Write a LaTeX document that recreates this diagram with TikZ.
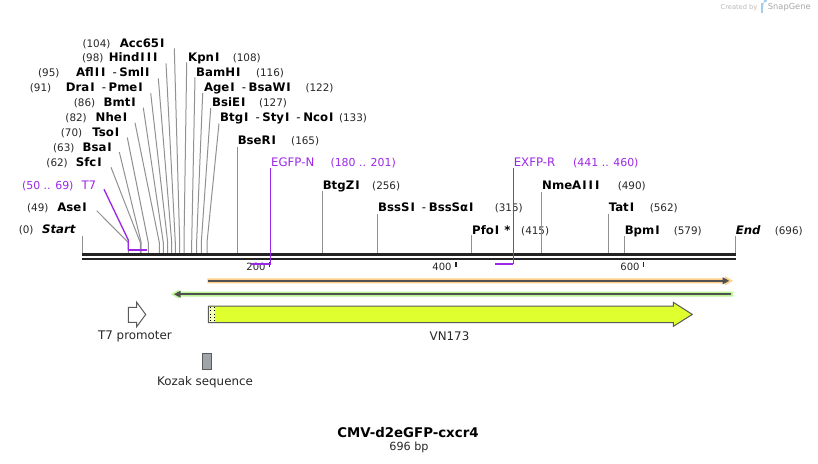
\documentclass[tikz,border=0pt]{standalone}
\usepackage{fontspec}
\setmainfont{DejaVu Sans}
\usetikzlibrary{arrows.meta}
\tikzset{every picture/.style={line width=0.75pt}}
\definecolor{seqline}{RGB}{35,35,35}
\definecolor{cutgrey}{RGB}{145,145,145}
\definecolor{primer}{RGB}{155,40,230}
\definecolor{orangeband}{RGB}{255,208,140}
\definecolor{greenband}{RGB}{188,245,150}
\definecolor{vnfill}{RGB}{224,255,47}
\definecolor{kozakfill}{RGB}{160,165,172}
\definecolor{featedge}{RGB}{90,90,90}
\definecolor{bandline}{RGB}{80,80,80}
\definecolor{logoblue}{RGB}{165,205,238}
\newcommand{\enzsep}{\hspace{4.5pt}\textmd{-}\hspace{2pt}}
\newcommand{\eI}{\kern0.75pt I\kern0.75pt}
\tikzset{
  backbone/.style={draw=seqline, line width=2pt},
  cut/.style={draw=cutgrey, line width=0.75pt},
  oligoline/.style={draw=primer, line width=1pt},
  oligobar/.style={draw=primer, line width=1.4pt},
  tickmark/.style={draw=seqline, line width=1.1pt},
  enz/.style={inner sep=0pt, font=\fontsize{8.8}{10}\selectfont\bfseries},
  enzend/.style={inner sep=0pt, font=\fontsize{8.8}{10}\selectfont\bfseries\itshape},
  sitenum/.style={inner sep=0pt, font=\fontsize{7.8}{9}\selectfont, text=black!85},
  oligo/.style={inner sep=0pt, font=\fontsize{8.8}{10}\selectfont, text=primer},
  oligonum/.style={inner sep=0pt, font=\fontsize{8.2}{9}\selectfont, text=primer},
  ticklabel/.style={inner sep=0pt, anchor=base east, font=\fontsize{7.5}{8}\selectfont, text=black!85},
  featlabel/.style={inner sep=0pt, font=\fontsize{8.9}{10}\selectfont, text=black!85},
}

\begin{document}
\begin{tikzpicture}[x=0.75pt,y=0.75pt,yscale=-1,xscale=1]
\useasboundingbox (0,0) rectangle (818,464);

% Text Node: left enzyme labels
\node[enz, anchor=base east] (acc) at (166,47) {Acc65\eI};
\node[sitenum, anchor=base east] (acc-n) at (111,47) {(104)};
\node[enz, anchor=base east] (hind) at (159,61) {Hind\eI\eI\eI};
\node[sitenum, anchor=base east] (hind-n) at (104,61) {(98)};
\node[enz, anchor=base east] (afl) at (151,76) {Afl\eI\eI\enzsep Sml\eI};
\node[sitenum, anchor=base east] (afl-n) at (60,76) {(95)};
\node[enz, anchor=base east] (dra) at (144.3,91) {Dra\eI\enzsep Pme\eI};
\node[sitenum, anchor=base east] (dra-n) at (51.7,91) {(91)};
\node[enz, anchor=base east] (bmt) at (137.3,106) {Bmt\eI};
\node[sitenum, anchor=base east] (bmt-n) at (95.7,106) {(86)};
\node[enz, anchor=base east] (nhe) at (128.7,121) {Nhe\eI};
\node[sitenum, anchor=base east] (nhe-n) at (87.3,121) {(82)};
\node[enz, anchor=base east] (tso) at (120.7,136) {Tso\eI};
\node[sitenum, anchor=base east] (tso-n) at (82.7,136) {(70)};
\node[enz, anchor=base east] (bsa) at (113.3,151) {Bsa\eI};
\node[sitenum, anchor=base east] (bsa-n) at (75,151) {(63)};
\node[enz, anchor=base east] (sfc) at (103.3,166) {Sfc\eI};
\node[sitenum, anchor=base east] (sfc-n) at (68.3,166) {(62)};
\node[oligo, anchor=base east] (t7) at (96.7,189.5) {T7};
\node[oligonum, anchor=base east] (t7-n) at (74,189.5) {(50 .. 69)};
\node[enz, anchor=base east] (ase) at (88.3,211) {Ase\eI};
\node[sitenum, anchor=base east] (ase-n) at (49,211) {(49)};
\node[enzend, anchor=base east] (startlbl) at (76,233.8) {Start};
\node[sitenum, anchor=base east] (startlbl-n) at (34,233.8) {(0)};

% Text Node: right enzyme labels
\node[enz, anchor=base west] (kpn) at (187.7,61) {Kpn\eI};
\node[sitenum, anchor=base west] (kpn-n) at (232.3,61) {(108)};
\node[enz, anchor=base west] (bam) at (195.7,76) {BamH\eI};
\node[sitenum, anchor=base west] (bam-n) at (255.5,76) {(116)};
\node[enz, anchor=base west] (age) at (203.5,91) {Age\eI\enzsep BsaW\eI};
\node[sitenum, anchor=base west] (age-n) at (305,91) {(122)};
\node[enz, anchor=base west] (bsie) at (211.7,106) {BsiE\eI};
\node[sitenum, anchor=base west] (bsie-n) at (258.5,106) {(127)};
\node[enz, anchor=base west] (btg) at (219.7,121) {Btg\eI\enzsep Sty\eI\enzsep Nco\eI};
\node[sitenum, anchor=base west] (btg-n) at (338.5,121) {(133)};
\node[enz, anchor=base west] (bser) at (237.3,144.3) {BseR\eI};
\node[sitenum, anchor=base west] (bser-n) at (290.7,144.3) {(165)};
\node[oligo, anchor=base west] (egfp) at (270.7,166.6) {EGFP-N};
\node[oligonum, anchor=base west] (egfp-n) at (330,166.6) {(180 .. 201)};
\node[enz, anchor=base west] (btgz) at (322.3,189.5) {BtgZ\eI};
\node[sitenum, anchor=base west] (btgz-n) at (371.7,189.5) {(256)};
\node[enz, anchor=base west] (bsss) at (377.7,211.5) {BssS\eI\enzsep BssSα\eI};
\node[sitenum, anchor=base west] (bsss-n) at (494.3,211.5) {(315)};
\node[enz, anchor=base west] (pfo) at (471.7,234) {Pfo\eI{} *};
\node[sitenum, anchor=base west] (pfo-n) at (520.7,234) {(415)};
\node[oligo, anchor=base west] (exfp) at (513.3,166.6) {EXFP-R};
\node[oligonum, anchor=base west] (exfp-n) at (572.7,166.6) {(441 .. 460)};
\node[enz, anchor=base west] (nme) at (541.7,189.5) {NmeA\eI\eI\eI};
\node[sitenum, anchor=base west] (nme-n) at (617.3,189.5) {(490)};
\node[enz, anchor=base west] (tat) at (608.3,211.5) {Tat\eI};
\node[sitenum, anchor=base west] (tat-n) at (649.3,211.5) {(562)};
\node[enz, anchor=base west] (bpm) at (624.3,234) {Bpm\eI};
\node[sitenum, anchor=base west] (bpm-n) at (673.3,234) {(579)};
\node[enzend, anchor=base west] (endlbl) at (735.3,234) {End};
\node[sitenum, anchor=base west] (endlbl-n) at (774.3,234) {(696)};

%Straight Lines: slanted cut connectors
\foreach \id/\xa/\ya/\xs in {acc/174.3/48.3/179.7, hind/166/63.3/175.3, afl/158.3/78.3/171.7,
    dra/150.7/93.3/167.7, bmt/143.3/107.7/163.3, nhe/135/122.7/159.3, tso/127.3/137.5/148.3,
    bsa/119.3/152/141.2, sfc/111/167.3/140.3, ase/96.7/210.7/128.3,
    kpn/186.7/62.3/184, bam/195/77.3/191.7, age/202.7/93/196.6, bsie/210.7/108/201.3, btg/219/123.5/207}{
  \coordinate (\id-a) at (\xa,\ya);
  \coordinate (\id-s) at (\xs,242.5);
  \coordinate (\id-b) at (\xs,253.3);
  \draw[cut] (\id-a) -- (\id-s) -- (\id-b);
}
%Straight Lines: vertical cut connectors
\foreach \id/\xs/\ya in {bser/237.3/147, btgz/322.3/191, bsss/377.7/214, pfo/471.7/235,
    nme/541.7/191.5, tat/608.3/213.5, bpm/624.3/235.5, endlbl/735.3/235.5, startlbl/82.7/235.5}{
  \coordinate (\id-a) at (\xs,\ya);
  \coordinate (\id-b) at (\xs,253.3);
  \draw[cut] (\id-a) -- (\id-b);
}

% Sequence line
\coordinate (seq-a1) at (82,254.7);
\coordinate (seq-b1) at (736,254.7);
\coordinate (seq-a2) at (82,259);
\coordinate (seq-b2) at (736,259);
\draw[backbone] (seq-a1) -- (seq-b1);
\draw[backbone] (seq-a2) -- (seq-b2);

% Ticks
\coordinate (tk200a) at (269.3,262); \coordinate (tk200b) at (269.3,267.3);
\coordinate (tk400a) at (456,262); \coordinate (tk400b) at (456,267.3);
\coordinate (tk600a) at (643.5,262); \coordinate (tk600b) at (643.5,267.3);
\draw[tickmark] (tk200a) -- (tk200b);
\draw[tickmark] (tk400a) -- (tk400b);
\draw[tickmark] (tk600a) -- (tk600b);
\node[ticklabel] (tk200) at (266,270.3) {200};
\node[ticklabel] (tk400) at (452,270.3) {400};
\node[ticklabel] (tk600) at (640,270.3) {600};

% Primers
\coordinate (t7-a) at (104,189.3);
\coordinate (t7-s) at (128.3,240);
\coordinate (t7-b) at (128.3,250);
\coordinate (t7-e) at (146.7,250);
\draw[oligoline] (t7-a) -- (t7-s) -- (t7-b);
\draw[oligobar] (t7-b) -- (t7-e);
\coordinate (egfp-a) at (270.5,168);
\coordinate (egfp-b) at (270.5,264);
\coordinate (egfp-e) at (250.5,264);
\draw[oligoline] (egfp-a) -- (egfp-b);
\draw[oligobar] (egfp-b) -- (egfp-e);
\coordinate (exfp-a) at (513.3,168);
\coordinate (exfp-b) at (513.3,264);
\coordinate (exfp-e) at (495.3,264);
\draw[oligoline] (exfp-a) -- (exfp-b);
\draw[oligobar] (exfp-b) -- (exfp-e);

%Shape: orange band
\fill[orangeband] (207.3,278.3) -- (725,278.3) -- (725,276.2) -- (733,280.8) -- (725,285.4) -- (725,283.3) -- (207.3,283.3) -- cycle;
\draw[draw=bandline, line width=1.5pt, -{Triangle[length=5pt,width=5pt]}] (208.3,280.8) -- (729.3,280.8);
%Shape: green band
\fill[greenband] (733,291.7) -- (179,291.7) -- (179,289.6) -- (171,294.2) -- (179,298.8) -- (179,296.7) -- (733,296.7) -- cycle;
\draw[draw=bandline, line width=1.5pt, -{Triangle[length=5pt,width=5pt]}] (731,294.2) -- (174,294.2);

%Shape: VN173
\draw[featedge, fill=vnfill] (208.3,306) -- (673.3,306) -- (673.3,302.3) -- (692.3,314.4) -- (673.3,326.4) -- (673.3,322.7) -- (208.3,322.7) -- cycle;
\fill[vnfill!35!white] (208.9,306.6) rectangle (215,322.1);
\draw[black, dotted, line width=0.6pt] (210.4,306.6) -- (210.4,322.1);
\draw[black, dotted, line width=0.6pt] (213.9,306.6) -- (213.9,322.1);
%Shape: T7 promoter
\draw[featedge, fill=white] (128.3,307.3) -- (136.7,307.3) -- (136.7,302.3) -- (145.7,314.5) -- (136.7,326.7) -- (136.7,322.3) -- (128.3,322.3) -- cycle;
%Shape: Kozak sequence
\draw[featedge, fill=kozakfill] (202.3,353.3) rectangle (211.7,369.3);

% Text Node: feature labels
\node[featlabel] (t7prom) at (135,336) {T7 promoter};
\node[featlabel] (vn173) at (449.5,336) {VN173};
\node[featlabel] (kozak) at (205,382.7) {Kozak sequence};

% Text Node: title
\node[inner sep=0pt, font=\fontsize{10}{12}\selectfont\bfseries] (title) at (408,433) {CMV-d2eGFP-cxcr4};
\node[inner sep=0pt, font=\fontsize{8.4}{10}\selectfont, text=black!85] (length) at (409,447.5) {696 bp};

% Text Node: watermark
\node[inner sep=0pt, font=\fontsize{5}{6}\selectfont, text=black!28] (made) at (739,7.5) {Created by};
\fill[logoblue] (761,2.5) rectangle (763,13);
\fill[logoblue] (763,2.5) -- (764.5,2.5) arc[start angle=90, end angle=-90, radius=2.6] -- (763,7.7) -- cycle;
\node[inner sep=0pt, font=\fontsize{6.2}{7}\selectfont, text=black!35] (snap) at (789.3,7.5) {SnapGene};

\end{tikzpicture}
\end{document}
